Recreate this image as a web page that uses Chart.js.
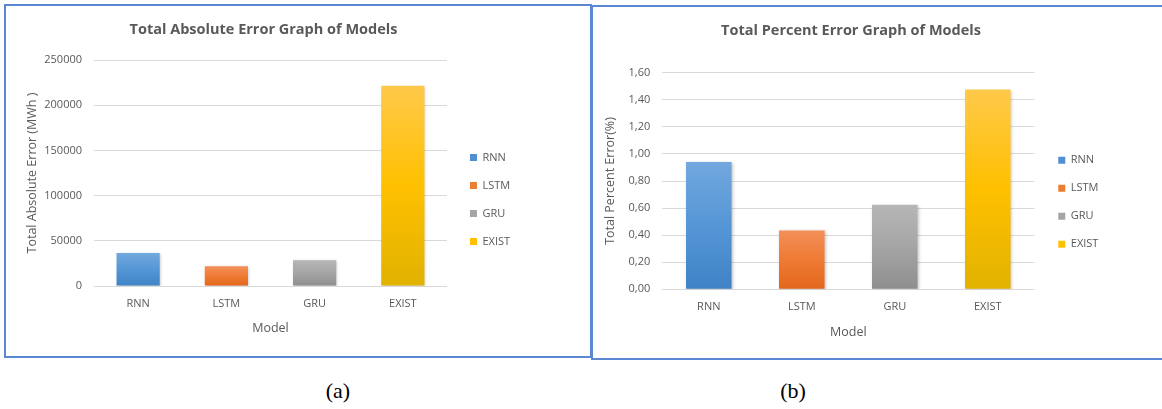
<!DOCTYPE html>
<html>
<head>
<meta charset="utf-8">
<script src="https://cdn.jsdelivr.net/npm/chart.js@4/dist/chart.umd.min.js"></script>
<style>
  body { margin: 0; width: 1162px; height: 409px; overflow: hidden; background: #fff; position: relative; }
  .panel { position: absolute; border: 2px solid #5b87d3; background: #fff; overflow: hidden; }
  .panel canvas { display: block; }
  .cap { position: absolute; width: 80px; text-align: center; font: 22px "Liberation Serif", "Times New Roman", serif; line-height: 26px; color: #000; }
</style>
</head>
<body>
<div class="panel" style="left:4px; top:4px; width:584px; height:350px;"><canvas id="absChart" width="584" height="350"></canvas></div>
<div class="panel" style="left:591px; top:5px; width:600px; height:351px;"><canvas id="pctChart" width="575" height="351"></canvas></div>
<div class="cap" style="left:298px; top:378px;">(a)</div>
<div class="cap" style="left:753px; top:378px;">(b)</div>
<script>
const models = ["RNN", "LSTM", "GRU", "EXIST"];
const absoluteError = [36500, 21800, 28500, 221500];   // MWh
const percentError = [0.94, 0.435, 0.625, 1.475];       // %
const absTicks = { max: 250000, step: 50000 };
const pctTicks = { max: 1.6, step: 0.2 };

// top / middle / bottom shades for each model's bar
const barShades = [
  ["#72a8de", "#5596d6", "#3f83c6"],
  ["#f3905a", "#ef7a33", "#e2671c"],
  ["#b6b6b6", "#a5a5a5", "#8e8e8e"],
  ["#ffc94a", "#ffc000", "#e1b200"]
];
const legendColors = ["#4f8fd2", "#ed7d31", "#a5a5a5", "#ffc000"];

Chart.defaults.font.family = "'Open Sans', sans-serif";
Chart.defaults.color = "#595959";

function barFill(ctx) {
  const shades = barShades[ctx.dataIndex % barShades.length];
  const chart = ctx.chart;
  const area = chart.chartArea;
  if (!area || ctx.type !== "data") return shades[1];
  const top = chart.scales.y.getPixelForValue(ctx.raw);
  const g = chart.ctx.createLinearGradient(0, top, 0, area.bottom);
  g.addColorStop(0, shades[0]);
  g.addColorStop(0.5, shades[1]);
  g.addColorStop(1, shades[2]);
  return g;
}

// soft drop shadow under the bars
const barShadow = {
  id: "barShadow",
  beforeDatasetsDraw(chart) {
    const c = chart.ctx;
    c.save();
    c.shadowColor = "rgba(0, 0, 0, 0.22)";
    c.shadowBlur = 3;
    c.shadowOffsetX = 1;
    c.shadowOffsetY = 1;
  },
  afterDatasetsDraw(chart) {
    chart.ctx.restore();
  }
};

function makeChart(id, values, o) {
  return new Chart(document.getElementById(id), {
    type: "bar",
    plugins: [barShadow],
    data: {
      labels: models,
      datasets: [{
        data: values,
        backgroundColor: barFill,
        borderWidth: 0,
        barPercentage: 1,
        categoryPercentage: 0.49
      }]
    },
    options: {
      responsive: false,
      animation: false,
      layout: { padding: o.pad },
      scales: {
        x: {
          grid: { display: false, drawTicks: false },
          border: { display: false },
          ticks: { padding: 11, font: { size: 11 } },
          title: { display: true, text: "Model", font: { size: 12.5 }, padding: { top: 0, bottom: 2 } },
          afterFit: s => { s.height = o.xHeight; }
        },
        y: {
          min: 0,
          max: o.ticks.max,
          ticks: { stepSize: o.ticks.step, padding: 12, font: { size: 11 }, callback: o.fmt },
          grid: { color: "#d9d9d9", drawTicks: false },
          border: { display: false },
          title: { display: true, text: o.yTitle, font: { size: 12.5 }, padding: { top: o.yTitlePad, bottom: 0 } },
          afterFit: s => { s.width = o.yWidth; }
        },
        // empty strip between the plot and the legend
        legendGap: {
          type: "linear",
          position: "right",
          grid: { display: false },
          border: { display: false },
          ticks: { display: false },
          afterFit: s => { s.width = o.gap; }
        }
      },
      plugins: {
        title: {
          display: true,
          text: o.title,
          color: "#595959",
          font: { size: 14.5, weight: "bold" },
          padding: o.titlePad
        },
        legend: {
          position: "right",
          title: { display: true, text: "", font: { size: 11 }, padding: { top: 0, bottom: 31 } },
          labels: {
            boxWidth: 7,
            boxHeight: 7,
            padding: 17,
            color: "#595959",
            font: { size: 11 },
            generateLabels: chart => chart.data.labels.map((l, i) => ({
              text: l,
              fillStyle: legendColors[i],
              strokeStyle: legendColors[i],
              lineWidth: 0,
              hidden: false,
              index: i
            }))
          }
        },
        tooltip: { enabled: false }
      }
    }
  });
}

makeChart("absChart", absoluteError, {
  title: "Total Absolute Error Graph of Models",
  yTitle: "Total Absolute Error (MWh )",
  ticks: absTicks,
  fmt: v => String(v),
  pad: { left: 0.8, right: 69.8, top: 11, bottom: 18 },
  titlePad: { top: 4, bottom: 21.6 },
  yTitlePad: 17.7,
  yWidth: 87.2,
  xHeight: 52,
  gap: 6
});

makeChart("pctChart", percentError, {
  title: "Total Percent Error Graph of Models",
  yTitle: "Total Percent Error(%)",
  ticks: pctTicks,
  fmt: v => v.toFixed(2).replace(".", ","),
  pad: { left: 0.5, right: 59.5, top: 11, bottom: 15.8 },
  titlePad: { top: 4, bottom: 33.3 },
  yTitlePad: 9,
  yWidth: 68.8,
  xHeight: 52.9,
  gap: 7
});
</script>
</body>
</html>
